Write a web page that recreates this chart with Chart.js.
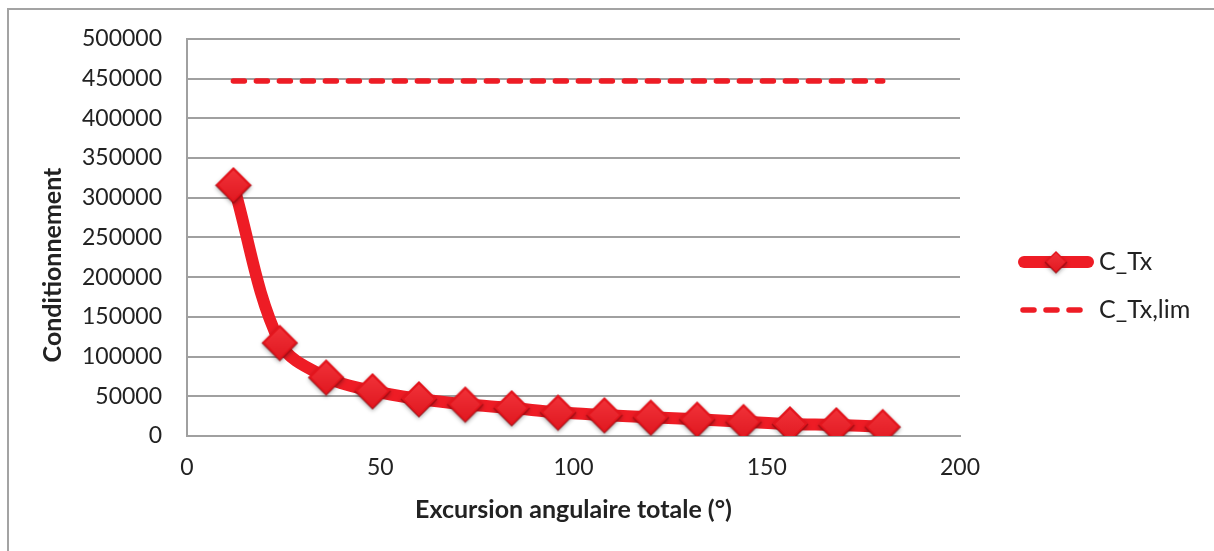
<!DOCTYPE html>
<html>
<head>
<meta charset="utf-8">
<script src="https://cdn.jsdelivr.net/npm/chart.js@4/dist/chart.umd.min.js"></script>
<style>
  html, body { margin: 0; padding: 0; background: #fff; overflow: hidden; }
  #wrap { position: relative; width: 1214px; height: 551px; }
  #frame { position: absolute; left: 7px; top: 8px; width: 1300px; height: 700px; border: 2px solid #a3a3a3; box-sizing: border-box; }
  canvas { position: absolute; left: 0; top: 0; }
</style>
</head>
<body>
<div id="wrap">
  <div id="frame"></div>
  <canvas id="c" width="1214" height="551"></canvas>
</div>
<script>
// ---- data ----
const angles = [12, 24, 36, 48, 60, 72, 84, 96, 108, 120, 132, 144, 156, 168, 180];
const conditioning = [316000, 117500, 74000, 56700, 46600, 39900, 35300, 29800, 26400, 23500, 21000, 18000, 15100, 13900, 11700];
const limitAngles = [12, 180];
const limitValues = [447000, 447000];
const seriesNames = ['C_Tx', 'C_Tx,lim'];
const xTitle = 'Excursion angulaire totale (°)';
const yTitle = 'Conditionnement';

const RED = '#EE1C25';
const GRID = '#a0a0a0';
const FONT = 'Lato, "Open Sans", sans-serif';

// diamond marker image
function makeDiamond(r) {
  const pad = 6;
  const s = 2 * r + 2 * pad;
  const cv = document.createElement('canvas');
  cv.width = s; cv.height = s;
  const g = cv.getContext('2d');
  const c = s / 2;
  g.save();
  g.shadowColor = 'rgba(0,0,0,0.35)';
  g.shadowBlur = 4;
  g.shadowOffsetY = 2;
  g.beginPath();
  g.moveTo(c, c - r); g.lineTo(c + r, c); g.lineTo(c, c + r); g.lineTo(c - r, c); g.closePath();
  g.fillStyle = '#E3151D';
  g.fill();
  g.restore();
  const inset = r * 0.18;
  g.beginPath();
  g.moveTo(c, c - r + inset); g.lineTo(c + r - inset, c); g.lineTo(c, c + r - inset); g.lineTo(c - r + inset, c); g.closePath();
  const grad = g.createLinearGradient(0, c - r, 0, c + r);
  grad.addColorStop(0, '#F2333A');
  grad.addColorStop(1, '#E01820');
  g.fillStyle = grad;
  g.fill();
  g.beginPath();
  g.moveTo(c - r, c); g.lineTo(c, c + r); g.lineTo(c + r, c);
  g.strokeStyle = 'rgba(140,10,15,0.55)';
  g.lineWidth = 1.5;
  g.stroke();
  return cv;
}
const diamondBig = makeDiamond(18);
const diamondSmall = makeDiamond(11);

const legendPlugin = {
  id: 'customLegend',
  afterDraw(chart) {
    const ctx = chart.ctx;
    ctx.save();
    // y axis title
    ctx.save();
    ctx.translate(53, 265);
    ctx.rotate(-Math.PI / 2);
    ctx.fillStyle = '#222'; ctx.font = 'bold 25px ' + FONT; ctx.textAlign = 'center'; ctx.textBaseline = 'middle';
    ctx.fillText(yTitle, 0, 0);
    ctx.restore();
    // legend
    const y1 = 262;
    ctx.strokeStyle = RED; ctx.lineWidth = 12; ctx.lineCap = 'round';
    ctx.beginPath(); ctx.moveTo(1024, y1); ctx.lineTo(1088, y1); ctx.stroke();
    ctx.drawImage(diamondSmall, 1056 - diamondSmall.width / 2, y1 - diamondSmall.height / 2);
    ctx.fillStyle = '#222'; ctx.font = '25px ' + FONT; ctx.textBaseline = 'middle'; ctx.textAlign = 'left';
    ctx.fillText(seriesNames[0], 1099, y1);
    const y2 = 310;
    ctx.lineWidth = 5.5; ctx.setLineDash([11, 12]);
    ctx.beginPath(); ctx.moveTo(1023, y2); ctx.lineTo(1081, y2); ctx.stroke();
    ctx.setLineDash([]);
    ctx.fillText(seriesNames[1], 1099, y2);
    ctx.restore();
  }
};

new Chart(document.getElementById('c'), {
  type: 'line',
  data: {
    datasets: [
      {
        label: seriesNames[0],
        data: angles.map((a, i) => ({ x: a, y: conditioning[i] })),
        borderColor: RED,
        backgroundColor: RED,
        borderWidth: 12,
        borderCapStyle: 'round',
        borderJoinStyle: 'round',
        tension: 0.35,
        pointStyle: diamondBig,
        pointRadius: 18,
        pointHoverRadius: 18,
      },
      {
        label: seriesNames[1],
        data: limitAngles.map((a, i) => ({ x: a, y: limitValues[i] })),
        borderColor: RED,
        backgroundColor: RED,
        borderWidth: 5.5,
        borderDash: [11, 12],
        borderCapStyle: 'round',
        pointRadius: 0,
        tension: 0,
      }
    ]
  },
  options: {
    responsive: false,
    animation: false,
    devicePixelRatio: 1,
    layout: { padding: { top: 38, left: 0, right: 254, bottom: 22 } },
    plugins: { legend: { display: false }, tooltip: { enabled: false } },
    scales: {
      x: {
        type: 'linear', min: 0, max: 200,
        ticks: { stepSize: 50, color: '#222', font: { family: FONT, size: 23 }, padding: 18, maxRotation: 0 },
        grid: { display: false, drawTicks: false },
        border: { color: GRID, width: 2 },
        title: { display: true, text: xTitle, color: '#222', font: { family: FONT, size: 25, weight: 'bold' }, padding: { top: 4, bottom: 4 } },
        afterFit: s => { s.height = 93; }
      },
      y: {
        min: 0, max: 500000,
        ticks: { stepSize: 50000, color: '#222', font: { family: FONT, size: 23 }, padding: 25, callback: v => String(v) },
        grid: { color: GRID, lineWidth: 2, drawTicks: false },
        border: { color: GRID, width: 2 },
        title: { display: false },
        afterFit: s => { s.width = 187; }
      }
    }
  },
  plugins: [legendPlugin]
});
</script>
</body>
</html>
